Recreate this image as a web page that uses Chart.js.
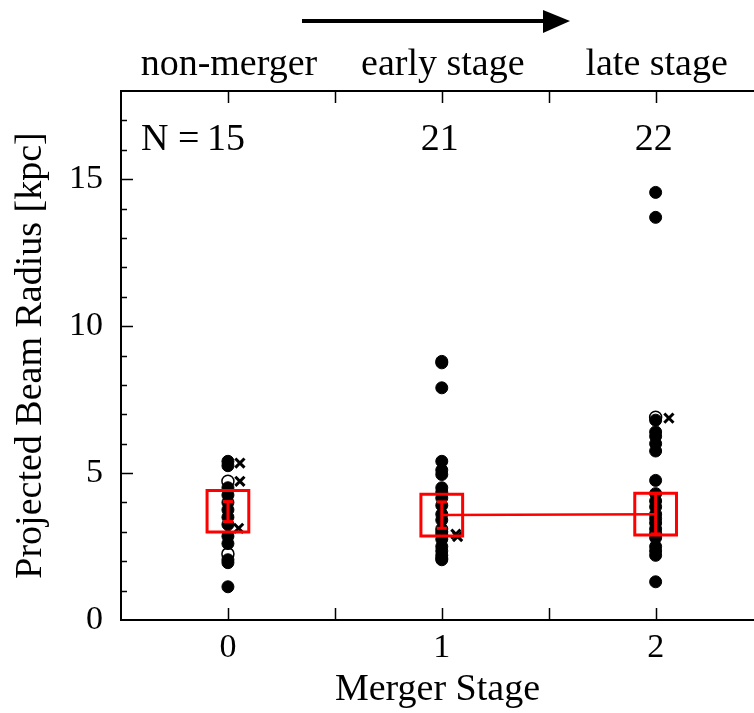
<!DOCTYPE html>
<html>
<head>
<meta charset="utf-8">
<script src="https://cdn.jsdelivr.net/npm/chart.js@4.4.1/dist/chart.umd.min.js"></script>
<style>
  html, body { margin: 0; padding: 0; background: #fff; }
  #wrap { width: 754px; height: 713px; }
</style>
</head>
<body>
<div id="wrap"><canvas id="beamChart" width="754" height="713"></canvas></div>
<script>
// merger stages and their labels
var stages = [0, 1, 2];
var stageNames = ['non-merger', 'early stage', 'late stage'];
var stageCounts = [15, 21, 22];

// projected beam radius [kpc] of each source
var radiusStage0 = [5.4, 5.25, 4.5, 4.25, 4.0, 3.75, 3.5, 3.25, 2.85, 2.6, 2.05, 1.95, 1.13];
var radiusStage1 = [8.8, 8.75, 7.9, 5.4, 5.1, 4.95, 4.5, 4.35, 4.15, 3.9, 3.6, 3.4, 3.1, 3.0, 2.9, 2.75, 2.5, 2.35, 2.2, 2.1, 2.05];
var radiusStage2 = [14.55, 13.7, 6.8, 6.4, 6.25, 6.0, 5.75, 4.75, 4.3, 4.05, 3.85, 3.6, 3.45, 3.3, 3.1, 2.95, 2.8, 2.5, 2.35, 2.2, 1.3];
// open symbols
var openStage = [0, 0, 2];
var openRadius = [4.72, 2.25, 6.9];
// crosses, plotted just right of each stage
var crossStage = [0.056, 0.056, 0.05, 1.066, 1.074, 2.062];
var crossRadius = [5.34, 4.72, 3.12, 2.92, 2.84, 6.87];

// median with its uncertainty
var medianRadius = [3.7, 3.57, 3.6];
var medianLow = [3.35, 3.12, 2.93];
var medianHigh = [4.03, 4.02, 4.31];

var RED = '#ff0000';
var SERIF = '"Liberation Serif", "Times New Roman", serif';

function column(x, ys) {
  return ys.map(function (y) { return { x: x, y: y }; });
}

var datasets = [];

// red median boxes
datasets.push({
  data: stages.map(function (s, i) { return { x: s, y: medianRadius[i] }; }),
  pointStyle: 'rect',
  pointRadius: 29.5,
  pointBorderWidth: 3,
  pointBorderColor: RED,
  pointBackgroundColor: 'rgba(0,0,0,0)',
  showLine: false,
  order: 0
});

// error bars inside the boxes
stages.forEach(function (s, i) {
  datasets.push({
    data: [{ x: s, y: medianLow[i] }, { x: s, y: medianHigh[i] }],
    showLine: true,
    borderColor: RED,
    borderWidth: 3,
    pointStyle: 'line',
    pointRadius: 5,
    pointBorderWidth: 3,
    pointBorderColor: RED,
    order: 1
  });
});

// line joining early and late stage medians
datasets.push({
  data: [{ x: 1, y: medianRadius[1] }, { x: 2, y: medianRadius[2] }],
  showLine: true,
  borderColor: RED,
  borderWidth: 2.5,
  pointRadius: 0,
  order: 2
});

// filled black dots
datasets.push({
  data: column(0, radiusStage0).concat(column(1, radiusStage1), column(2, radiusStage2)),
  pointRadius: 6,
  pointBorderWidth: 1,
  pointBorderColor: '#000',
  pointBackgroundColor: '#000',
  showLine: false,
  order: 3
});

// open circles
datasets.push({
  data: openStage.map(function (s, i) { return { x: s, y: openRadius[i] }; }),
  pointRadius: 6,
  pointBorderWidth: 1.5,
  pointBorderColor: '#000',
  pointBackgroundColor: '#fff',
  showLine: false,
  order: 4
});

// crosses
datasets.push({
  data: crossStage.map(function (s, i) { return { x: s, y: crossRadius[i] }; }),
  pointStyle: 'crossRot',
  pointRadius: 6.5,
  pointBorderWidth: 3,
  pointBorderColor: '#000',
  showLine: false,
  order: 5
});

// frame with inward ticks, stage labels, counts and the arrow
var decorations = {
  id: 'decorations',
  afterDraw: function (chart) {
    var ctx = chart.ctx;
    var a = chart.chartArea;
    var xs = chart.scales.x;
    var ys = chart.scales.y;
    ctx.save();
    ctx.strokeStyle = '#000';
    ctx.lineWidth = 2;
    ctx.beginPath();
    ctx.moveTo(a.right, a.top);
    ctx.lineTo(a.left, a.top);
    ctx.lineTo(a.left, a.bottom);
    ctx.lineTo(a.right, a.bottom);
    ctx.stroke();

    ctx.lineWidth = 1.5;
    ctx.beginPath();
    for (var v = -0.5; v <= 2.5; v += 0.5) {
      var px = Math.round(xs.getPixelForValue(v)) + 0.5;
      if (px <= a.left + 1 || px >= a.right) continue;
      ctx.moveTo(px, a.bottom);
      ctx.lineTo(px, a.bottom - 12);
      ctx.moveTo(px, a.top);
      ctx.lineTo(px, a.top + 12);
    }
    for (var t = 1; t < 18; t++) {
      var py = Math.round(ys.getPixelForValue(t)) + 0.5;
      ctx.moveTo(a.left, py);
      ctx.lineTo(a.left + (t % 5 === 0 ? 12 : 6), py);
    }
    ctx.stroke();

    ctx.fillStyle = '#000';
    ctx.font = '38px ' + SERIF;
    ctx.textBaseline = 'alphabetic';
    ctx.textAlign = 'center';
    stages.forEach(function (s, i) {
      var cx = xs.getPixelForValue(s);
      ctx.fillText(stageNames[i], cx + 1, 75);
      ctx.fillText(String(stageCounts[i]), cx - 2, 150);
    });
    ctx.textAlign = 'right';
    ctx.fillText('N = ', xs.getPixelForValue(0) - 19, 150);

    // arrow pointing towards later stages
    ctx.lineWidth = 4;
    ctx.beginPath();
    ctx.moveTo(302, 21);
    ctx.lineTo(548, 21);
    ctx.stroke();
    ctx.beginPath();
    ctx.moveTo(543, 10);
    ctx.lineTo(570, 21);
    ctx.lineTo(543, 33);
    ctx.closePath();
    ctx.fill();
    ctx.restore();
  }
};

var ctx = document.getElementById('beamChart').getContext('2d');
var beamChart = new Chart(ctx, {
  type: 'scatter',
  data: { datasets: datasets },
  options: {
    responsive: false,
    animation: false,
    layout: { autoPadding: false, padding: { top: 91, left: 0, right: 0, bottom: 0 } },
    plugins: { legend: { display: false }, tooltip: { enabled: false } },
    scales: {
      x: {
        type: 'linear',
        min: -0.5,
        max: 2.46,
        grid: { display: false },
        border: { display: false },
        afterBuildTicks: function (scale) {
          scale.ticks = stages.map(function (s) { return { value: s }; });
        },
        afterFit: function (scale) {
          scale.height = 93;
          scale.paddingLeft = 0;
          scale.paddingRight = 0;
        },
        ticks: {
          color: '#000',
          padding: 0,
          maxRotation: 0,
          font: { family: SERIF, size: 34 },
          callback: function (v) { return String(v); }
        },
        title: {
          display: true,
          text: 'Merger Stage',
          color: '#000',
          font: { family: SERIF, size: 38 },
          padding: { top: 0, bottom: 0 }
        }
      },
      y: {
        type: 'linear',
        min: 0,
        max: 18,
        grid: { display: false },
        border: { display: false },
        afterBuildTicks: function (scale) {
          scale.ticks = [0, 5, 10, 15].map(function (v) { return { value: v }; });
        },
        afterFit: function (scale) {
          scale.width = 121;
          scale.paddingTop = 0;
          scale.paddingBottom = 0;
        },
        ticks: {
          color: '#000',
          padding: 10,
          font: { family: SERIF, size: 34 },
          callback: function (v) { return String(v); }
        },
        title: {
          display: true,
          text: 'Projected Beam Radius [kpc]',
          color: '#000',
          font: { family: SERIF, size: 38 },
          padding: { top: 8, bottom: 0 }
        }
      }
    }
  },
  plugins: [decorations]
});
</script>
</body>
</html>
